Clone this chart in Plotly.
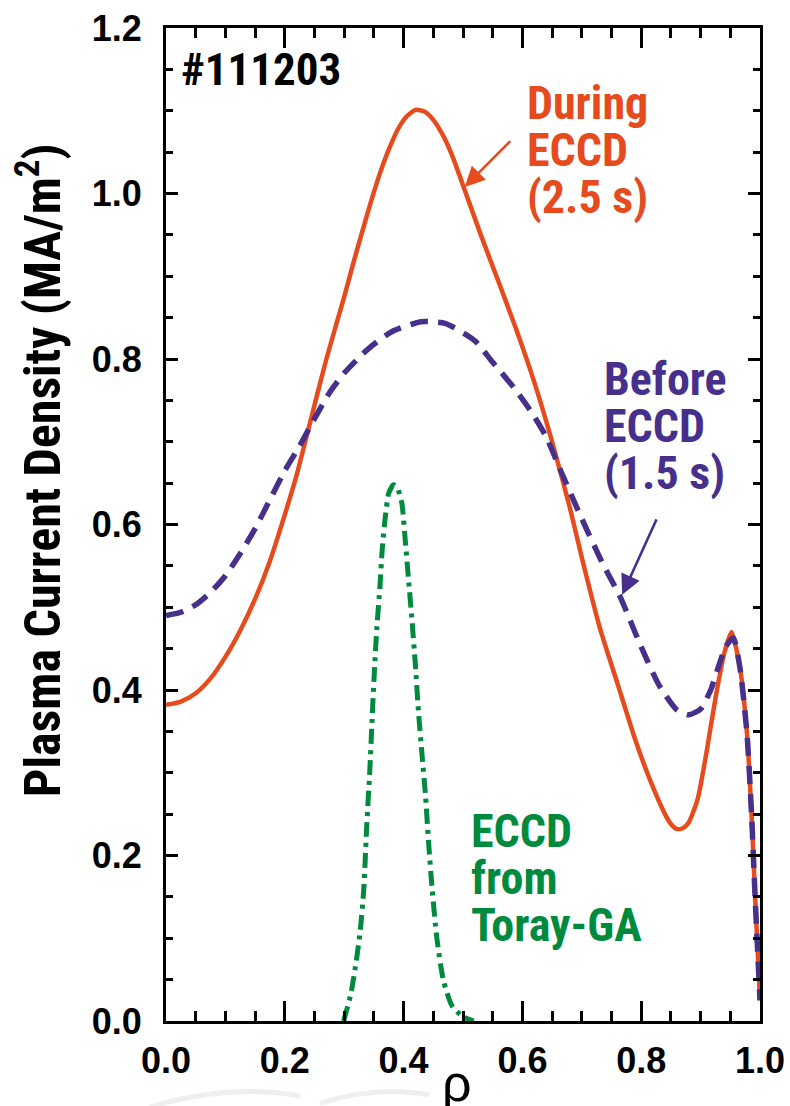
import plotly.graph_objects as go

# Normalized minor radius / current density (MA/m^2)
rho_during = [0.00, 0.025, 0.05, 0.075, 0.10, 0.125, 0.15, 0.175, 0.20, 0.22, 0.24, 0.27, 0.30,
              0.315, 0.33, 0.345, 0.36, 0.375, 0.39, 0.405, 0.42, 0.435, 0.45, 0.465, 0.48,
              0.50, 0.53, 0.56, 0.59, 0.62, 0.65, 0.68, 0.70, 0.73, 0.76, 0.79, 0.815, 0.84,
              0.85, 0.86, 0.87, 0.88, 0.895, 0.91, 0.925, 0.94, 0.952, 0.966, 0.978, 0.986,
              0.992, 1.0]
j_during = [0.382, 0.386, 0.396, 0.414, 0.440, 0.472, 0.510, 0.556, 0.612, 0.660, 0.716, 0.800,
            0.875, 0.915, 0.953, 0.990, 1.024, 1.053, 1.077, 1.093, 1.101, 1.099, 1.089, 1.072,
            1.049, 1.010, 0.950, 0.893, 0.835, 0.772, 0.700, 0.620, 0.560, 0.476, 0.408, 0.340,
            0.291, 0.250, 0.238, 0.232, 0.233, 0.240, 0.268, 0.325, 0.390, 0.445, 0.470, 0.428,
            0.348, 0.247, 0.146, 0.025]

rho_before = [0.00, 0.025, 0.05, 0.075, 0.10, 0.125, 0.15, 0.175, 0.20, 0.225, 0.25, 0.275,
              0.30, 0.34, 0.38, 0.43, 0.47, 0.52, 0.55, 0.585, 0.615, 0.64, 0.665, 0.70, 0.735,
              0.765, 0.80, 0.83, 0.86, 0.88, 0.90, 0.917, 0.93, 0.942, 0.955, 0.966, 0.978,
              0.986, 0.992, 1.0]
j_before = [0.490, 0.494, 0.503, 0.518, 0.538, 0.565, 0.595, 0.630, 0.665, 0.695, 0.728, 0.759,
            0.783, 0.812, 0.833, 0.845, 0.843, 0.822, 0.796, 0.766, 0.736, 0.706, 0.664, 0.607,
            0.553, 0.512, 0.452, 0.406, 0.376, 0.370, 0.377, 0.400, 0.428, 0.452, 0.463, 0.428,
            0.348, 0.247, 0.146, 0.025]

rho_eccd = [0.299, 0.311, 0.319, 0.327, 0.333, 0.338, 0.343, 0.347, 0.351, 0.355, 0.360, 0.364,
            0.369, 0.375, 0.383, 0.389, 0.397, 0.403, 0.408, 0.414, 0.420, 0.425, 0.431, 0.437,
            0.442, 0.448, 0.456, 0.467, 0.481, 0.498, 0.518]
j_eccd = [0.000, 0.032, 0.066, 0.109, 0.160, 0.237, 0.301, 0.365, 0.425, 0.476, 0.523, 0.570,
          0.608, 0.638, 0.648, 0.645, 0.626, 0.579, 0.536, 0.485, 0.429, 0.374, 0.322, 0.271,
          0.216, 0.160, 0.100, 0.049, 0.019, 0.006, 0.000]

x_ticks = [0.0, 0.2, 0.4, 0.6, 0.8, 1.0]
y_ticks = [0.0, 0.2, 0.4, 0.6, 0.8, 1.0, 1.2]

shot_label = "#111203"
during_lines = ["During", "ECCD", "(2.5 s)"]
before_lines = ["Before", "ECCD", "(1.5 s)"]
eccd_lines = ["ECCD", "from", "Toray-GA"]

RED = "#E64B1E"
PURPLE = "#46308C"
GREEN = "#008A3E"
COND = "Roboto Condensed, Open Sans Condensed, DejaVu Sans Condensed, sans-serif"
SANS = "Liberation Sans, Arial, Helvetica, sans-serif"
LABEL_SIZE = 46

fig = go.Figure()
fig.add_trace(go.Scatter(x=rho_during, y=j_during, mode="lines",
                         line=dict(color=RED, width=4.5, shape="spline", smoothing=0.6)))
fig.add_trace(go.Scatter(x=rho_before, y=j_before, mode="lines",
                         line=dict(color=PURPLE, width=5.5, dash="18px,10px",
                                   shape="spline", smoothing=0.6)))
fig.add_trace(go.Scatter(x=rho_eccd, y=j_eccd, mode="lines",
                         line=dict(color=GREEN, width=5, dash="15px,6px,4px,6px",
                                   shape="spline", smoothing=0.6)))

annotations = []
annotations.append(dict(x=0.022, y=1.150, xref="x", yref="y", text=shot_label, showarrow=False,
                        xanchor="left", yanchor="middle",
                        font=dict(family=COND, size=45, color="black", weight="bold")))


def stacked(lines, x, y0, color, step):
    out = []
    for i, t in enumerate(lines):
        out.append(dict(x=x, y=y0 - i * step, xref="x", yref="y", text=t, showarrow=False,
                        xanchor="left", yanchor="middle",
                        font=dict(family=COND, size=LABEL_SIZE, color=color, weight="bold")))
    return out


step = 47 / 827.5
annotations += stacked(during_lines, 0.605, (1021 - 103) / 827.5, RED, step)
annotations += stacked(before_lines, 0.734, (1021 - 379) / 827.5, PURPLE, step)
annotations += stacked(eccd_lines, 0.510, (1021 - 831) / 827.5, GREEN, step)

# pointer arrows
annotations.append(dict(x=0.503, y=1.008, ax=0.582, ay=1.065, xref="x", yref="y",
                        axref="x", ayref="y", text="", showarrow=True, arrowhead=2,
                        arrowsize=1.6, arrowwidth=2.5, arrowcolor=RED, standoff=0))
annotations.append(dict(x=0.768, y=0.515, ax=0.827, ay=0.608, xref="x", yref="y",
                        axref="x", ayref="y", text="", showarrow=True, arrowhead=2,
                        arrowsize=1.6, arrowwidth=2.5, arrowcolor=PURPLE, standoff=0))

# axis titles
annotations.append(dict(x=-0.212, y=0.555, xref="paper", yref="paper",
                        text="Plasma Current Density (MA/m<sup>2</sup>)", showarrow=False,
                        textangle=-90, xanchor="center", yanchor="middle",
                        font=dict(family=COND, size=50, color="black", weight="bold")))
annotations.append(dict(x=0.49, y=-0.031, xref="paper", yref="paper", text="ρ",
                        showarrow=False, xanchor="center", yanchor="top",
                        font=dict(family=SANS, size=52, color="black")))

# faint grey swoosh along the bottom edge
shapes = [
    dict(type="path", xref="paper", yref="paper", layer="below",
         path="M -0.027,-0.0866 Q 0.108,-0.0624 0.2256,-0.0755",
         line=dict(color="#efefef", width=5)),
    dict(type="path", xref="paper", yref="paper", layer="below",
         path="M 0.259,-0.0826 Q 0.360,-0.0644 0.444,-0.0745",
         line=dict(color="#efefef", width=5)),
]

axis_common = dict(showgrid=False, zeroline=False, showline=True, linecolor="black",
                   linewidth=3, mirror="ticks", ticks="inside", tickcolor="black",
                   tickwidth=2.5, tickformat=".1f", automargin=False,
                   tickfont=dict(family=SANS, size=36, color="black", weight="bold"))

fig.update_layout(
    width=790, height=1106,
    margin=dict(l=166, r=30, t=28, b=85),
    paper_bgcolor="white", plot_bgcolor="white",
    showlegend=False,
    annotations=annotations,
    shapes=shapes,
    xaxis=dict(range=[0, 1], tickvals=x_ticks, ticklen=20, ticklabelstandoff=6,
               minor=dict(dtick=0.05, ticklen=10, tickwidth=2.5, ticks="inside",
                          tickcolor="black"),
               **axis_common),
    yaxis=dict(range=[0, 1.2], tickvals=y_ticks, ticklen=12, ticklabelstandoff=14,
               minor=dict(dtick=0.05, ticklen=7, tickwidth=2.5, ticks="inside",
                          tickcolor="black"),
               **axis_common),
)

fig.write_html("out.html")
